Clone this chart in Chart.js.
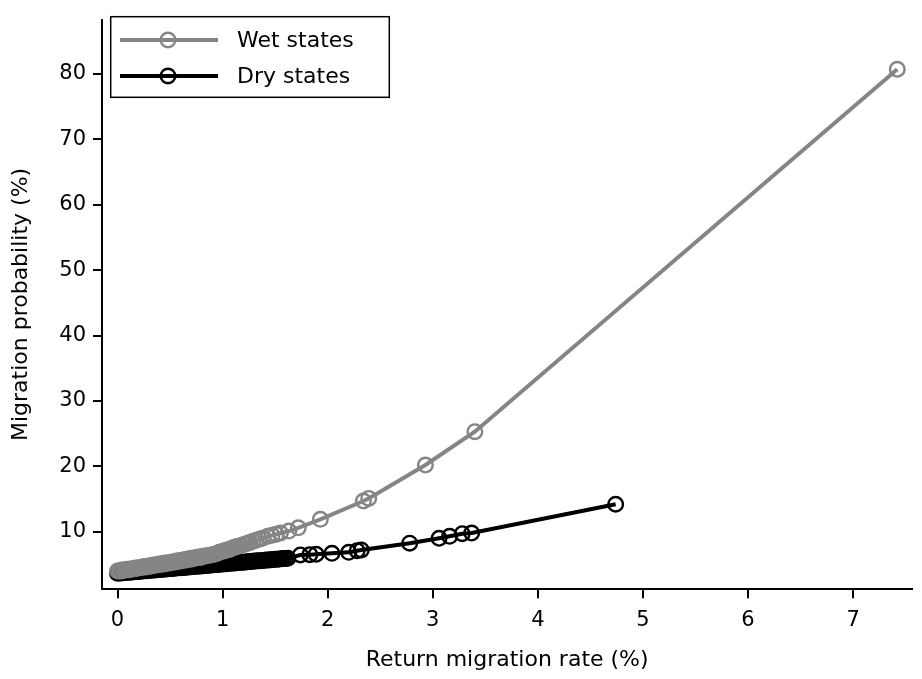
<!DOCTYPE html>
<html>
<head>
<meta charset="utf-8">
<script src="https://cdn.jsdelivr.net/npm/chart.js@4.4.0/dist/chart.umd.min.js"></script>
<style>
html, body { margin: 0; padding: 0; background: #fff; }
</style>
</head>
<body>
<canvas id="migrationChart" width="922" height="679"></canvas>
<script>
// values
const xTicks = [0, 1, 2, 3, 4, 5, 6, 7];
const yTicks = [10, 20, 30, 40, 50, 60, 70, 80];

const wetRate = [0, 0.02, 0.03, 0.05, 0.07, 0.09, 0.11, 0.13, 0.15, 0.17, 0.19, 0.21, 0.23, 0.25, 0.27, 0.29,
    0.31, 0.33, 0.35, 0.37, 0.39, 0.41, 0.43, 0.45, 0.47, 0.49, 0.51, 0.53, 0.55, 0.57, 0.59, 0.61, 0.63,
    0.65, 0.67, 0.69, 0.71, 0.73, 0.75, 0.77, 0.79, 0.81, 0.84, 0.86, 0.89, 0.92, 0.95, 0.97, 1.00, 1.02,
    1.04, 1.06, 1.08, 1.10, 1.12, 1.15, 1.18, 1.21, 1.24, 1.26, 1.29, 1.32, 1.35, 1.38, 1.43, 1.47, 1.51,
    1.55, 1.63, 1.72, 1.93, 2.34, 2.39, 2.93, 3.40, 7.42];
const wetProb = [4.00, 4.05, 3.98, 4.18, 4.12, 4.26, 4.20, 4.35, 4.30, 4.46, 4.42, 4.55, 4.52, 4.68, 4.62, 4.76,
    4.72, 4.86, 4.84, 4.98, 4.94, 5.09, 5.03, 5.22, 5.14, 5.30, 5.26, 5.42, 5.36, 5.55, 5.50, 5.66, 5.60,
    5.78, 5.72, 5.90, 5.84, 6.01, 5.98, 6.12, 6.08, 6.24, 6.30, 6.37, 6.45, 6.55, 6.70, 6.85, 7.00, 7.10,
    7.20, 7.30, 7.40, 7.55, 7.65, 7.80, 7.95, 8.10, 8.25, 8.35, 8.55, 8.70, 8.85, 9.00, 9.30, 9.45, 9.60,
    9.80, 10.10, 10.60, 11.90, 14.70, 15.10, 20.20, 25.30, 80.70];

const dryRate = [0, 0.02, 0.04, 0.06, 0.08, 0.10, 0.12, 0.14, 0.16, 0.18, 0.20, 0.22, 0.24, 0.26, 0.28, 0.30,
    0.32, 0.34, 0.36, 0.38, 0.40, 0.42, 0.44, 0.46, 0.48, 0.50, 0.52, 0.54, 0.56, 0.58, 0.60, 0.62, 0.64,
    0.66, 0.68, 0.70, 0.72, 0.74, 0.76, 0.78, 0.80, 0.82, 0.84, 0.86, 0.88, 0.90, 0.92, 0.94, 0.96, 0.98,
    1.00, 1.02, 1.04, 1.06, 1.08, 1.10, 1.12, 1.14, 1.16, 1.18, 1.20, 1.22, 1.24, 1.26, 1.28, 1.30, 1.32,
    1.34, 1.36, 1.38, 1.40, 1.42, 1.44, 1.46, 1.48, 1.50, 1.52, 1.54, 1.56, 1.58, 1.60, 1.62,
    1.74, 1.83, 1.89, 2.04, 2.20, 2.28, 2.32, 2.78, 3.06, 3.16, 3.28, 3.37, 4.74];
const dryProb = [3.65, 3.68, 3.70, 3.75, 3.76, 3.80, 3.82, 3.86, 3.87, 3.92, 3.93, 3.97, 3.99, 4.03, 4.04, 4.09,
    4.10, 4.14, 4.15, 4.20, 4.21, 4.26, 4.27, 4.31, 4.33, 4.37, 4.38, 4.43, 4.44, 4.48, 4.50, 4.54, 4.55,
    4.60, 4.61, 4.65, 4.67, 4.71, 4.72, 4.77, 4.78, 4.82, 4.84, 4.88, 4.89, 4.94, 4.95, 4.99, 5.01, 5.05,
    5.07, 5.11, 5.12, 5.17, 5.18, 5.22, 5.24, 5.28, 5.29, 5.34, 5.35, 5.39, 5.41, 5.45, 5.46, 5.51, 5.52,
    5.56, 5.58, 5.62, 5.63, 5.68, 5.69, 5.73, 5.75, 5.79, 5.80, 5.85, 5.86, 5.90, 5.92, 5.95,
    6.45, 6.50, 6.55, 6.70, 6.85, 7.10, 7.20, 8.25, 9.00, 9.30, 9.70, 9.80, 14.20];

const GRAY = '#858585';
const FONT = 'DejaVu Sans';

// legend drawn inside the plot, top-left, framed
const boxLegend = {
    id: 'boxLegend',
    afterDraw(chart) {
        const c = chart.ctx;
        c.save();
        c.fillStyle = '#fff';
        c.strokeStyle = '#000';
        c.lineWidth = 1.5;
        c.fillRect(110.7, 16.7, 278.6, 80.6);
        c.strokeRect(110.7, 16.7, 278.6, 80.6);
        chart.data.datasets.forEach((ds, i) => {
            const y = 40 + i * 36;
            c.strokeStyle = ds.borderColor;
            c.lineWidth = ds.borderWidth;
            c.beginPath();
            c.moveTo(120, y);
            c.lineTo(218, y);
            c.stroke();
            c.lineWidth = ds.pointBorderWidth;
            c.beginPath();
            c.arc(168, y, ds.pointRadius, 0, Math.PI * 2);
            c.stroke();
            c.fillStyle = '#000';
            c.font = '22px "' + FONT + '"';
            c.textAlign = 'left';
            c.textBaseline = 'middle';
            c.fillText(ds.label, 237, y + 1);
        });
        c.restore();
    }
};

function toPoints(xs, ys) {
    return xs.map((x, i) => ({ x: x, y: ys[i] }));
}

const ctx = document.getElementById('migrationChart').getContext('2d');
new Chart(ctx, {
    type: 'scatter',
    data: {
        datasets: [
            {
                label: 'Wet states',
                data: toPoints(wetRate, wetProb),
                showLine: true,
                borderColor: GRAY,
                borderWidth: 4,
                pointRadius: 7.3,
                pointBorderWidth: 2.4,
                pointBorderColor: GRAY,
                pointBackgroundColor: 'rgba(0,0,0,0)',
                backgroundColor: 'rgba(0,0,0,0)',
                tension: 0
            },
            {
                label: 'Dry states',
                data: toPoints(dryRate, dryProb),
                showLine: true,
                borderColor: '#000',
                borderWidth: 4,
                pointRadius: 7.3,
                pointBorderWidth: 2.4,
                pointBorderColor: '#000',
                pointBackgroundColor: 'rgba(0,0,0,0)',
                backgroundColor: 'rgba(0,0,0,0)',
                tension: 0
            }
        ]
    },
    options: {
        responsive: false,
        animation: false,
        devicePixelRatio: 1,
        layout: { padding: { top: 8.3, right: 0, bottom: 0, left: 0 } },
        plugins: {
            legend: { display: false },
            tooltip: { enabled: false }
        },
        scales: {
            x: {
                type: 'linear',
                min: -0.148,
                max: 7.563,
                afterBuildTicks: axis => { axis.ticks = xTicks.map(v => ({ value: v })); },
                afterFit: axis => { axis.height = 89.7; },
                grid: { drawOnChartArea: false, drawTicks: true, tickLength: 9, lineWidth: 2, color: '#000' },
                border: { display: true, color: '#000', width: 2 },
                ticks: { color: '#000', padding: 9.5, maxRotation: 0, font: { family: FONT, size: 21 } },
                title: {
                    display: true,
                    text: 'Return migration rate (%)',
                    color: '#000',
                    font: { family: FONT, size: 22 },
                    padding: { top: 0, bottom: 5.8 }
                }
            },
            y: {
                type: 'linear',
                min: 1.2,
                max: 88.3,
                afterBuildTicks: axis => { axis.ticks = yTicks.map(v => ({ value: v })); },
                afterFit: axis => { axis.width = 102; },
                grid: { drawOnChartArea: false, drawTicks: true, tickLength: 9, lineWidth: 2, color: '#000' },
                border: { display: true, color: '#000', width: 2 },
                ticks: { color: '#000', padding: 7, font: { family: FONT, size: 21 } },
                title: {
                    display: true,
                    text: 'Migration probability (%)',
                    color: '#000',
                    font: { family: FONT, size: 22 },
                    padding: { top: 8.5, bottom: 0 }
                }
            }
        }
    },
    plugins: [boxLegend]
});
</script>
</body>
</html>
